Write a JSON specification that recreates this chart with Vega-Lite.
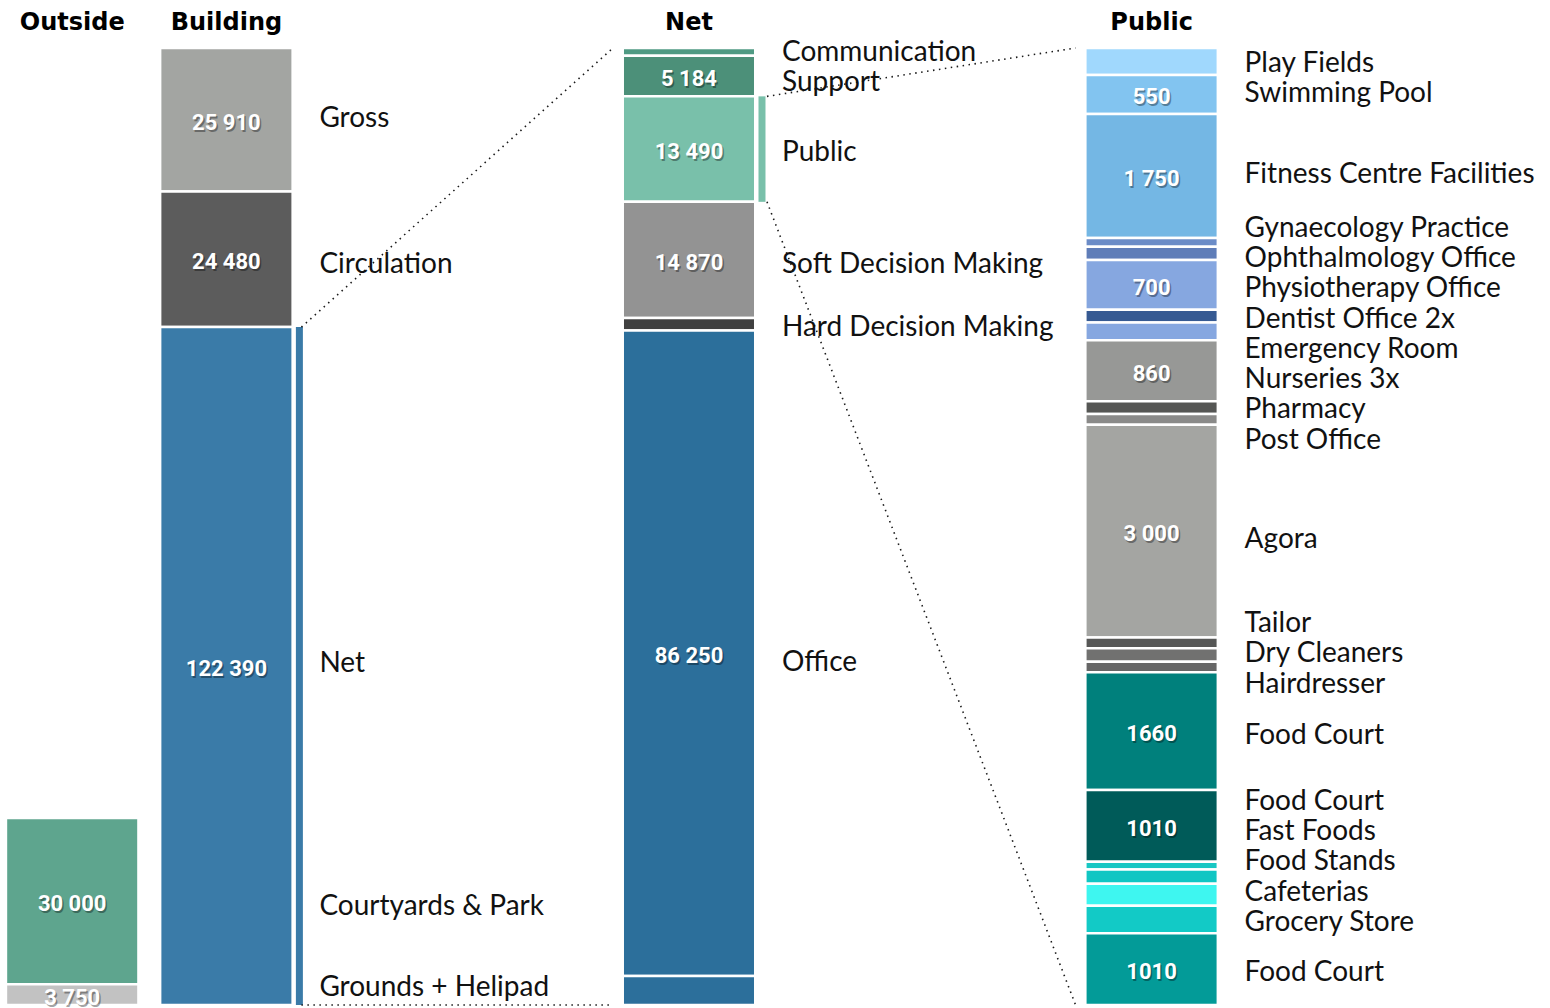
{
  "$schema": "https://vega.github.io/schema/vega-lite/v6.json",
  "width": 1550,
  "height": 957,
  "padding": {"left": 0, "right": 0, "top": 48, "bottom": 3},
  "autosize": {"type": "none"},
  "background": "white",
  "config": {"view": {"stroke": null}, "axis": {"grid": false}},
  "data": {"values": [
    {"col": "Outside", "id": "Courtyards & Park", "name": "Courtyards & Park", "value": 30000, "text": "30 000", "labelAt": 17700},
    {"col": "Outside", "id": "Grounds + Helipad", "name": "Grounds + Helipad", "value": 3750, "text": "3 750", "labelAt": 3070},
    {"col": "Building", "id": "Gross", "name": "Gross", "value": 25910, "text": "25 910", "labelAt": 159960},
    {"col": "Building", "id": "Circulation", "name": "Circulation", "value": 24480, "text": "24 480", "labelAt": 133600},
    {"col": "Building", "id": "Net", "name": "Net", "value": 122390, "text": "122 390", "labelAt": 61570, "expands": "Net"},
    {"col": "Net", "id": "Communication", "name": "Communication", "value": 1000, "text": "", "labelAt": 121750},
    {"col": "Net", "id": "Support", "name": "Support", "value": 5184, "text": "5 184", "labelAt": 117910},
    {"col": "Net", "id": "Public", "name": "Public", "value": 13490, "text": "13 490", "labelAt": 108960, "expands": "Public"},
    {"col": "Net", "id": "Soft Decision Making", "name": "Soft Decision Making", "value": 14870, "text": "14 870", "labelAt": 94640},
    {"col": "Net", "id": "Hard Decision Making", "name": "Hard Decision Making", "value": 1596, "text": "", "labelAt": 86580},
    {"col": "Net", "id": "Office", "name": "Office", "value": 82550, "text": "86 250", "labelAt": 43740},
    {"col": "Net", "id": "Office (other)", "name": "", "value": 3700, "text": "", "labelAt": 1850},
    {"col": "Public", "id": "Play Fields", "name": "Play Fields", "value": 380, "text": "", "labelAt": 13264},
    {"col": "Public", "id": "Swimming Pool", "name": "Swimming Pool", "value": 550, "text": "550", "labelAt": 12842},
    {"col": "Public", "id": "Fitness Centre Facilities", "name": "Fitness Centre Facilities", "value": 1750, "text": "1 750", "labelAt": 11700},
    {"col": "Public", "id": "Gynaecology Practice", "name": "Gynaecology Practice", "value": 120, "text": "", "labelAt": 10939},
    {"col": "Public", "id": "Ophthalmology Office", "name": "Ophthalmology Office", "value": 190, "text": "", "labelAt": 10516},
    {"col": "Public", "id": "Physiotherapy Office", "name": "Physiotherapy Office", "value": 700, "text": "700", "labelAt": 10093},
    {"col": "Public", "id": "Dentist Office 2x", "name": "Dentist Office 2x", "value": 180, "text": "", "labelAt": 9656},
    {"col": "Public", "id": "Emergency Room", "name": "Emergency Room", "value": 250, "text": "", "labelAt": 9233},
    {"col": "Public", "id": "Nurseries 3x", "name": "Nurseries 3x", "value": 860, "text": "860", "labelAt": 8810},
    {"col": "Public", "id": "Pharmacy", "name": "Pharmacy", "value": 180, "text": "", "labelAt": 8387},
    {"col": "Public", "id": "Post Office", "name": "Post Office", "value": 150, "text": "", "labelAt": 7950},
    {"col": "Public", "id": "Agora", "name": "Agora", "value": 3000, "text": "3 000", "labelAt": 6555},
    {"col": "Public", "id": "Tailor", "name": "Tailor", "value": 150, "text": "", "labelAt": 5371},
    {"col": "Public", "id": "Dry Cleaners", "name": "Dry Cleaners", "value": 190, "text": "", "labelAt": 4948},
    {"col": "Public", "id": "Hairdresser", "name": "Hairdresser", "value": 150, "text": "", "labelAt": 4511},
    {"col": "Public", "id": "Food Court A", "name": "Food Court", "value": 1660, "text": "1660", "labelAt": 3792},
    {"col": "Public", "id": "Food Court B", "name": "Food Court", "value": 1010, "text": "1010", "labelAt": 2862},
    {"col": "Public", "id": "Fast Foods", "name": "Fast Foods", "value": 110, "text": "", "labelAt": 2439},
    {"col": "Public", "id": "Food Stands", "name": "Food Stands", "value": 200, "text": "", "labelAt": 2016},
    {"col": "Public", "id": "Cafeterias", "name": "Cafeterias", "value": 310, "text": "", "labelAt": 1579},
    {"col": "Public", "id": "Grocery Store", "name": "Grocery Store", "value": 390, "text": "", "labelAt": 1156},
    {"col": "Public", "id": "Food Court C", "name": "Food Court", "value": 1010, "text": "1010", "labelAt": 451}
  ]},
  "transform": [
    {"window": [{"op": "row_number", "as": "rank"}]},
    {"stack": "value", "groupby": ["col"], "sort": [{"field": "rank", "order": "descending"}], "as": ["y0", "y1"]},
    {"joinaggregate": [{"op": "sum", "field": "value", "as": "total"}], "groupby": ["col"]},
    {"calculate": "(datum.y0 + datum.y1) / 2", "as": "mid"}
  ],
  "encoding": {
    "x": {
      "field": "col", "type": "nominal",
      "scale": {"domain": ["Outside", "Building", "_a", "_b", "Net", "_c", "_d", "Public", "_e", "_f"], "paddingInner": 0.1407, "paddingOuter": 0.0963, "align": 0.2, "round": false},
      "axis": {"orient": "top", "title": null, "domain": false, "ticks": false, "tickSize": 0, "labelAngle": 0, "labelFont": "DejaVu Sans", "labelFontWeight": "bold", "labelFontSize": 24, "labelColor": "#000", "labelPadding": 14, "labelOverlap": false, "labelExpr": "indexof(['Outside','Building','Net','Public'], datum.label) >= 0 ? datum.label : ''"}
    }
  },
  "layer": [
    {
      "transform": [{"filter": "datum.col === 'Outside' || datum.col === 'Building'"}],
      "layer": [
        {"mark": {"type": "bar", "stroke": "#ffffff", "strokeWidth": 2.5},
         "encoding": {
           "y": {"field": "y1", "type": "quantitative", "scale": {"zero": true, "nice": false}, "axis": null},
           "y2": {"field": "y0"},
           "color": {"field": "id", "type": "nominal", "legend": null, "scale": {
             "domain": ["Courtyards & Park", "Grounds + Helipad", "Gross", "Circulation", "Net", "Communication", "Support", "Public", "Soft Decision Making", "Hard Decision Making", "Office", "Office (other)", "Play Fields", "Swimming Pool", "Fitness Centre Facilities", "Gynaecology Practice", "Ophthalmology Office", "Physiotherapy Office", "Dentist Office 2x", "Emergency Room", "Nurseries 3x", "Pharmacy", "Post Office", "Agora", "Tailor", "Dry Cleaners", "Hairdresser", "Food Court A", "Food Court B", "Fast Foods", "Food Stands", "Cafeterias", "Grocery Store", "Food Court C"],
             "range": ["#5ea58e", "#c2c2c2", "#a3a5a2", "#5c5c5c", "#3a7ba8", "#4f9a83", "#4c9079", "#79c0aa", "#939393", "#404040", "#2c6f9b", "#2c6f9b", "#a0d8fd", "#82c4f0", "#74b7e4", "#6b8cc7", "#5f7db8", "#86a7e0", "#365a92", "#86a7e0", "#979896", "#555654", "#8a8a89", "#a4a5a2", "#565756", "#717170", "#666666", "#00807c", "#005b59", "#18c7c3", "#10c6c3", "#3ef6f0", "#12cac6", "#039b98"]}}
         }},
        {"transform": [{"filter": "isValid(datum.expands)"}],
         "mark": {"type": "rule", "strokeWidth": 7, "xOffset": 73},
         "encoding": {"y": {"field": "y1", "type": "quantitative"}, "y2": {"field": "y0"}, "color": {"field": "id", "type": "nominal", "legend": null}}},
        {"transform": [{"filter": "isValid(datum.expands)"}],
         "mark": {"type": "rule", "strokeDash": [1.5, 4.5], "strokeWidth": 1.6, "color": "#1a1a1a", "xOffset": 75, "x2Offset": -76},
         "encoding": {"x2": {"field": "expands"}, "y": {"field": "y1", "type": "quantitative"}, "y2": {"field": "total"}}},
        {"transform": [{"filter": "isValid(datum.expands)"}],
         "mark": {"type": "rule", "strokeDash": [1.5, 4.5], "strokeWidth": 1.6, "color": "#1a1a1a", "xOffset": 75, "x2Offset": -76},
         "encoding": {"x2": {"field": "expands"}, "y": {"field": "y0", "type": "quantitative"}, "y2": {"datum": 0}}},
        {"transform": [{"filter": "datum.text !== ''"}],
         "mark": {"type": "text", "font": "Roboto", "fontWeight": "bold", "fontSize": 22, "fill": "#000000", "opacity": 0.35, "dx": 1.5, "dy": 5, "baseline": "middle"},
         "encoding": {"y": {"field": "mid", "type": "quantitative"}, "text": {"field": "text"}}},
        {"transform": [{"filter": "datum.text !== ''"}],
         "mark": {"type": "text", "font": "Roboto", "fontWeight": "bold", "fontSize": 22, "fill": "#ffffff", "baseline": "middle", "dy": 3},
         "encoding": {"y": {"field": "mid", "type": "quantitative"}, "text": {"field": "text"}}},
        {"transform": [{"filter": "datum.col === 'Building'"}],
         "mark": {"type": "text", "font": "Lato", "fontSize": 28, "fill": "#111111", "align": "left", "baseline": "middle", "dx": 93},
         "encoding": {"y": {"field": "labelAt", "type": "quantitative"}, "text": {"field": "name"}}},
        {"transform": [{"filter": "datum.col === 'Outside'"}],
         "mark": {"type": "text", "font": "Lato", "fontSize": 28, "fill": "#111111", "align": "left", "baseline": "middle", "dx": 247.2},
         "encoding": {"y": {"field": "labelAt", "type": "quantitative"}, "text": {"field": "name"}}}
      ]
    },
    {
      "transform": [{"filter": "datum.col === 'Net'"}],
      "layer": [
        {"mark": {"type": "bar", "stroke": "#ffffff", "strokeWidth": 2.5},
         "encoding": {"y": {"field": "y1", "type": "quantitative", "scale": {"zero": true, "nice": false}, "axis": null}, "y2": {"field": "y0"}, "color": {"field": "id", "type": "nominal", "legend": null}}},
        {"transform": [{"filter": "isValid(datum.expands)"}],
         "mark": {"type": "rule", "strokeWidth": 7, "xOffset": 73},
         "encoding": {"y": {"field": "y1", "type": "quantitative"}, "y2": {"field": "y0"}, "color": {"field": "id", "type": "nominal", "legend": null}}},
        {"transform": [{"filter": "isValid(datum.expands)"}],
         "mark": {"type": "rule", "strokeDash": [1.5, 4.5], "strokeWidth": 1.6, "color": "#1a1a1a", "xOffset": 78, "x2Offset": -76},
         "encoding": {"x2": {"field": "expands"}, "y": {"field": "y1", "type": "quantitative"}, "y2": {"field": "total"}}},
        {"transform": [{"filter": "isValid(datum.expands)"}],
         "mark": {"type": "rule", "strokeDash": [1.5, 4.5], "strokeWidth": 1.6, "color": "#1a1a1a", "xOffset": 78, "x2Offset": -76},
         "encoding": {"x2": {"field": "expands"}, "y": {"field": "y0", "type": "quantitative"}, "y2": {"datum": 0}}},
        {"transform": [{"filter": "datum.text !== ''"}],
         "mark": {"type": "text", "font": "Roboto", "fontWeight": "bold", "fontSize": 22, "fill": "#000000", "opacity": 0.35, "dx": 1.5, "dy": 5, "baseline": "middle"},
         "encoding": {"y": {"field": "mid", "type": "quantitative"}, "text": {"field": "text"}}},
        {"transform": [{"filter": "datum.text !== ''"}],
         "mark": {"type": "text", "font": "Roboto", "fontWeight": "bold", "fontSize": 22, "fill": "#ffffff", "baseline": "middle", "dy": 3},
         "encoding": {"y": {"field": "mid", "type": "quantitative"}, "text": {"field": "text"}}},
        {"transform": [{"filter": "datum.name !== ''"}],
         "mark": {"type": "text", "font": "Lato", "fontSize": 28, "fill": "#111111", "align": "left", "baseline": "middle", "dx": 93},
         "encoding": {"y": {"field": "labelAt", "type": "quantitative"}, "text": {"field": "name"}}}
      ]
    },
    {
      "transform": [{"filter": "datum.col === 'Public'"}],
      "layer": [
        {"mark": {"type": "bar", "stroke": "#ffffff", "strokeWidth": 2.5},
         "encoding": {"y": {"field": "y1", "type": "quantitative", "scale": {"zero": true, "nice": false}, "axis": null}, "y2": {"field": "y0"}, "color": {"field": "id", "type": "nominal", "legend": null}}},
        {"transform": [{"filter": "datum.text !== ''"}],
         "mark": {"type": "text", "font": "Roboto", "fontWeight": "bold", "fontSize": 22, "fill": "#000000", "opacity": 0.35, "dx": 1.5, "dy": 5, "baseline": "middle"},
         "encoding": {"y": {"field": "mid", "type": "quantitative"}, "text": {"field": "text"}}},
        {"transform": [{"filter": "datum.text !== ''"}],
         "mark": {"type": "text", "font": "Roboto", "fontWeight": "bold", "fontSize": 22, "fill": "#ffffff", "baseline": "middle", "dy": 3},
         "encoding": {"y": {"field": "mid", "type": "quantitative"}, "text": {"field": "text"}}},
        {"mark": {"type": "text", "font": "Lato", "fontSize": 28, "fill": "#111111", "align": "left", "baseline": "middle", "dx": 93},
         "encoding": {"y": {"field": "labelAt", "type": "quantitative"}, "text": {"field": "name"}}}
      ]
    }
  ],
  "resolve": {"scale": {"y": "independent"}}
}
